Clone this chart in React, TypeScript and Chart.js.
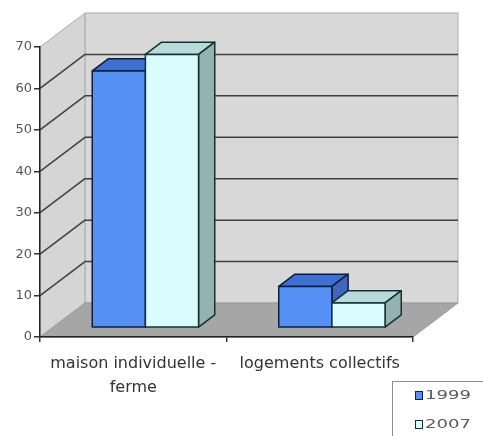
import { useEffect, useRef } from "react";
import { Chart, registerables } from "chart.js";

Chart.register(...registerables);

// Housing type by census year
const categories: (string | string[])[] = [["maison individuelle -", "ferme"], "logements collectifs"];
const seriesNames = ["1999", "2007"];
const values1999 = [62, 10];
const values2007 = [66, 6];
const yTickValues = [0, 10, 20, 30, 40, 50, 60, 70];

const W = 483;
const H = 436;

// Oblique projection of the chart depth (front plane -> back wall)
const DEPTH = { x: 45, y: -34 };
// Where the columns sit inside that depth (fractions)
const BAR_FRONT = 0.27;
const BAR_BACK = 0.63;

const FONT = "'DejaVu Sans', Verdana, sans-serif";

const palette = [
  { front: "#5591f5", top: "#3e6fd2", side: "#4167bb", edge: "#0f1d3a" },
  { front: "#d9fcff", top: "#b7dada", side: "#94b2b2", edge: "#163030" },
];

type Pt = [number, number];

function poly(ctx: CanvasRenderingContext2D, pts: Pt[], fill: string | null, stroke: string | null, lw = 1) {
  ctx.beginPath();
  ctx.moveTo(pts[0][0], pts[0][1]);
  for (let i = 1; i < pts.length; i++) ctx.lineTo(pts[i][0], pts[i][1]);
  ctx.closePath();
  if (fill) {
    ctx.fillStyle = fill;
    ctx.fill();
  }
  if (stroke) {
    ctx.strokeStyle = stroke;
    ctx.lineWidth = lw;
    ctx.lineJoin = "round";
    ctx.stroke();
  }
}

// Back wall, side wall, floor and wall gridlines, painted under the axes
const walls3d = {
  id: "walls3d",
  beforeDraw(chart: any) {
    const { ctx, chartArea: a, scales } = chart;
    const ys = scales.y;
    const dx = DEPTH.x;
    const dy = DEPTH.y;
    ctx.save();
    poly(ctx, [[a.left + dx, a.top + dy], [a.right + dx, a.top + dy], [a.right + dx, a.bottom + dy], [a.left + dx, a.bottom + dy]], "#d8d8d8", "#ababab", 1);
    poly(ctx, [[a.left, a.top], [a.left + dx, a.top + dy], [a.left + dx, a.bottom + dy], [a.left, a.bottom]], "#d5d5d5", "#ababab", 1);
    poly(ctx, [[a.left, a.bottom], [a.right, a.bottom], [a.right + dx, a.bottom + dy], [a.left + dx, a.bottom + dy]], "#a6a6a6", "#9a9a9a", 1);
    ctx.strokeStyle = "#404040";
    ctx.lineWidth = 1.5;
    ys.ticks.forEach((t: any) => {
      if (t.value <= ys.min || t.value >= ys.max) return;
      const py = ys.getPixelForValue(t.value);
      ctx.beginPath();
      ctx.moveTo(a.left, py);
      ctx.lineTo(a.left + dx, py + dy);
      ctx.lineTo(a.right + dx, py + dy);
      ctx.stroke();
    });
    ctx.restore();
  },
};

// Columns drawn as boxes from the bar elements' geometry
const columns3d = {
  id: "columns3d",
  beforeDatasetsDraw(chart: any) {
    const { ctx } = chart;
    const fx = DEPTH.x * BAR_FRONT;
    const fy = DEPTH.y * BAR_FRONT;
    const bx = DEPTH.x * (BAR_BACK - BAR_FRONT);
    const by = DEPTH.y * (BAR_BACK - BAR_FRONT);
    const n = chart.data.labels.length;
    ctx.save();
    for (let i = 0; i < n; i++) {
      chart.data.datasets.forEach((_ds: any, d: number) => {
        const el = chart.getDatasetMeta(d).data[i];
        const { x, y, base, width } = el.getProps(["x", "y", "base", "width"], true);
        const c = palette[d];
        const L = x - width / 2 + fx;
        const R = x + width / 2 + fx;
        const T = y + fy;
        const B = base + fy;
        poly(ctx, [[L, T], [L + bx, T + by], [R + bx, T + by], [R, T]], c.top, c.edge, 1.5);
        poly(ctx, [[R, T], [R + bx, T + by], [R + bx, B + by], [R, B]], c.side, c.edge, 1.5);
        poly(ctx, [[L, T], [R, T], [R, B], [L, B]], c.front, c.edge, 1.5);
      });
    }
    ctx.restore();
    return false;
  },
};

// Boxed legend in the lower right corner
const cornerLegend = {
  id: "cornerLegend",
  afterDraw(chart: any) {
    const { ctx } = chart;
    ctx.save();
    ctx.fillStyle = "#ffffff";
    ctx.fillRect(392.5, 381.5, 100, 60);
    ctx.strokeStyle = "#8c8c8c";
    ctx.lineWidth = 1;
    ctx.strokeRect(392.5, 381.5, 100, 60);
    seriesNames.forEach((name, i) => {
      const top = 391 + i * 29;
      ctx.fillStyle = palette[i].front;
      ctx.fillRect(415, top, 7, 8);
      ctx.strokeStyle = palette[i].edge;
      ctx.lineWidth = 1;
      ctx.strokeRect(415.5, top + 0.5, 7, 8);
      ctx.font = `12px ${FONT}`;
      ctx.fillStyle = "#5a5a5a";
      ctx.textBaseline = "middle";
      ctx.textAlign = "left";
      const w = ctx.measureText(name).width;
      ctx.save();
      ctx.translate(425, top + 4.5);
      ctx.scale(46 / w, 1);
      ctx.fillText(name, 0, 0);
      ctx.restore();
    });
    ctx.restore();
  },
};

export default function App() {
  const ref = useRef<HTMLCanvasElement | null>(null);

  useEffect(() => {
    document.body.style.margin = "0";
    const canvas = ref.current;
    if (!canvas) return;
    const chart = new Chart(canvas, {
      type: "bar",
      data: {
        labels: categories as any,
        datasets: [
          { label: seriesNames[0], data: values1999, backgroundColor: palette[0].front },
          { label: seriesNames[1], data: values2007, backgroundColor: palette[1].front },
        ],
      },
      options: {
        responsive: false,
        animation: false,
        events: [],
        layout: { padding: { top: 47, right: 70, left: 0, bottom: 0 } },
        datasets: { bar: { categoryPercentage: 0.57, barPercentage: 1 } },
        plugins: { legend: { display: false }, tooltip: { enabled: false } },
        scales: {
          x: {
            offset: true,
            grid: { offset: true, drawOnChartArea: false, drawTicks: true, tickLength: 5, color: "#333333", lineWidth: 1.5 },
            border: { display: true, color: "#222222", width: 1.5 },
            ticks: {
              color: "#333333",
              padding: 10,
              maxRotation: 0,
              autoSkip: false,
              font: { family: FONT, size: 16, lineHeight: 1.5 },
            },
            afterFit: (s: any) => {
              s.height = 99;
            },
          },
          y: {
            min: 0,
            max: 70,
            afterBuildTicks: (s: any) => {
              s.ticks = yTickValues.map((v) => ({ value: v }));
            },
            grid: { drawOnChartArea: false, drawTicks: true, tickLength: 6, color: "#333333", lineWidth: 1.5 },
            border: { display: true, color: "#222222", width: 1.5 },
            ticks: { color: "#555555", padding: 2, font: { family: FONT, size: 13 } },
            afterFit: (s: any) => {
              s.width = 40;
            },
          },
        },
      },
      plugins: [walls3d, columns3d, cornerLegend],
    });
    return () => chart.destroy();
  }, []);

  return (
    <div style={{ position: "absolute", left: 0, top: 0, width: W, height: H, background: "#ffffff" }}>
      <canvas ref={ref} width={W} height={H} />
    </div>
  );
}
